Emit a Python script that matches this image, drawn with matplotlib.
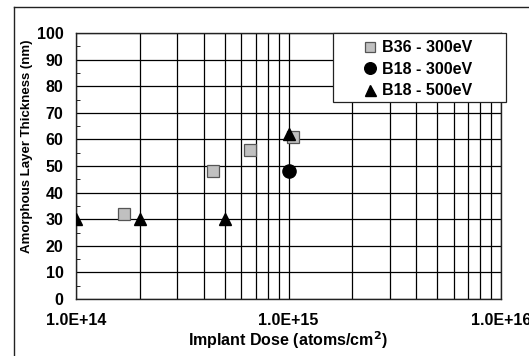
import matplotlib.pyplot as plt
from matplotlib.lines import Line2D
from matplotlib.patches import Rectangle
from matplotlib.ticker import FixedLocator, LogLocator, NullFormatter

plt.rcParams['font.family'] = ['Liberation Sans', 'DejaVu Sans']
plt.rcParams['font.weight'] = 'bold'

# --- data ---
b36_dose = [1.68e14, 4.4e14, 6.6e14, 1.05e15]
b36_thick = [32, 48, 56, 61]

b18_300_dose = [1.0e15]
b18_300_thick = [48]

b18_500_dose = [1.0e14, 2.0e14, 5.0e14, 1.0e15]
b18_500_thick = [30, 30, 30, 62]

y_ticks = [0, 10, 20, 30, 40, 50, 60, 70, 80, 90, 100]
x_ticks = [1e14, 1e15, 1e16]
x_tick_labels = ['1.0E+14', '1.0E+15', '1.0E+16']

W, H = 529, 356
FS = 11.5
fig = plt.figure(figsize=(W / 100, H / 100), dpi=100)
ax = fig.add_axes([76 / W, 1 - 299 / H, (501 - 76) / W, (299 - 33) / H])

ax.set_xscale('log')
ax.set_xlim(1e14, 1e16)
ax.set_ylim(0, 100)

ax.xaxis.set_major_locator(FixedLocator(x_ticks))
ax.set_xticklabels(x_tick_labels)
ax.xaxis.set_minor_locator(LogLocator(base=10, subs=range(2, 10)))
ax.xaxis.set_minor_formatter(NullFormatter())
ax.set_yticks(y_ticks)
ax.set_yticks(range(5, 100, 10), minor=True)

ax.grid(True, which='major', axis='both', color='black', linewidth=0.9)
ax.grid(True, which='minor', axis='x', color='black', linewidth=0.9)
ax.set_axisbelow(True)

ax.tick_params(axis='both', which='both', labelsize=FS, length=0)
ax.tick_params(axis='y', which='minor', length=3, direction='in', color='black')
ax.tick_params(axis='y', pad=9)
ax.tick_params(axis='x', pad=10)
for s in ax.spines.values():
    s.set_linewidth(1.0)
    s.set_color('#222222')

ax.plot(b36_dose, b36_thick, 's', ms=8.3, mfc='#c0c0c0', mec='#555555',
        mew=0.9, linestyle='none', label='B36 - 300eV', zorder=3)
ax.plot(b18_300_dose, b18_300_thick, 'o', ms=9.5, color='black',
        linestyle='none', label='B18 - 300eV', zorder=3)
ax.plot(b18_500_dose, b18_500_thick, '^', ms=9, color='black',
        linestyle='none', label='B18 - 500eV', zorder=4)

# legend box drawn separately so it has the wide padding of the original
ax.add_patch(Rectangle((333 / W, 1 - 102 / H), 173 / W, 69 / H,
                       transform=fig.transFigure, facecolor='white',
                       edgecolor='#222222', linewidth=0.9, zorder=5,
                       clip_on=False))
leg = ax.legend(loc='upper left', bbox_to_anchor=(364 / W, 1 - 40.5 / H),
                bbox_transform=fig.transFigure, borderaxespad=0,
                frameon=False, handlelength=0.8, handletextpad=0.3,
                labelspacing=0.4, borderpad=0, markerscale=0.88,
                prop={'weight': 'bold', 'size': FS})
leg.set_zorder(6)

fig.text(288 / W, 1 - 340 / H, 'Implant Dose (atoms/cm$^\\mathbf{2}$)',
         fontsize=FS, fontweight='bold', ha='center', va='center')
fig.text(27 / W, 1 - 146 / H, 'Amorphous Layer Thickness (nm)',
         fontsize=9.5, fontweight='bold', ha='center', va='center',
         rotation=90)

# outer chart-area frame (runs off the right and bottom edges)
fig.add_artist(Line2D([14 / W, 1.05], [1 - 7 / H, 1 - 7 / H],
                      transform=fig.transFigure, color='#222222', lw=1.0))
fig.add_artist(Line2D([14 / W, 14 / W], [-0.05, 1 - 7 / H],
                      transform=fig.transFigure, color='#222222', lw=1.0))

fig.savefig('out.png', dpi=100)
